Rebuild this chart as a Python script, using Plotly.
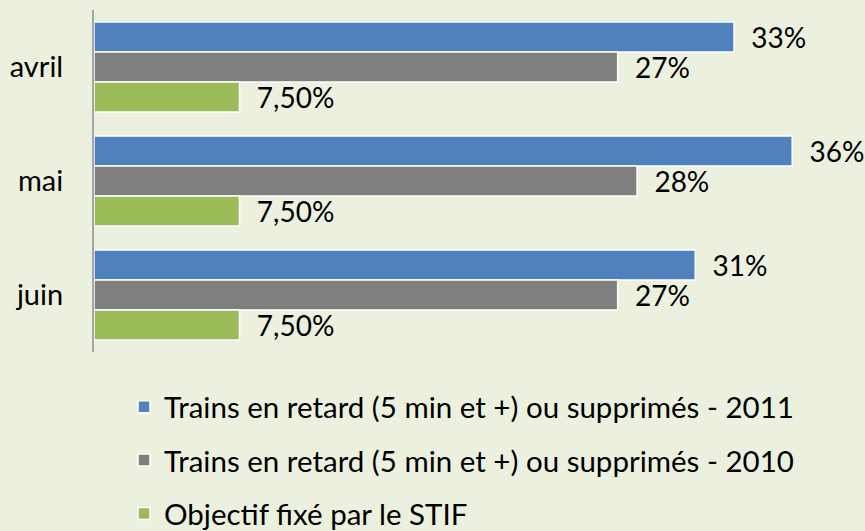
import plotly.graph_objects as go

categories = ["avril", "mai", "juin"]
series_names = [
    "Trains en retard (5 min et +) ou supprimés - 2011",
    "Trains en retard (5 min et +) ou supprimés - 2010",
    "Objectif fixé par le STIF",
]
values_2011 = [33, 36, 31]
values_2010 = [27, 28, 27]
values_stif = [7.5, 7.5, 7.5]
labels_2011 = ["33%", "36%", "31%"]
labels_2010 = ["27%", "28%", "27%"]
labels_stif = ["7,50%", "7,50%", "7,50%"]

colors = ["#4F81BD", "#7F7F7F", "#9BBB59"]
FONT = "Lato"
pad = "\u00a0\u00a0"

fig = go.Figure()
for i, (vals, labs) in enumerate([(values_2011, labels_2011), (values_2010, labels_2010), (values_stif, labels_stif)]):
    fig.add_trace(go.Bar(
        y=categories, x=vals, orientation="h", name=series_names[i],
        marker=dict(color=colors[i], line=dict(color="white", width=1.5)),
        text=[pad + l for l in labs], textposition="outside",
        textfont=dict(family=FONT, size=28, color="black"),
        constraintext="none", cliponaxis=False,
        legendgroup=f"g{i}",
    ))

fig.update_layout(
    width=865, height=531,
    margin=dict(l=94, r=34, t=10, b=179, autoexpand=False),
    paper_bgcolor="#EBF1DE", plot_bgcolor="#EBF1DE",
    barmode="group", bargap=0.21, bargroupgap=0,
    font=dict(family=FONT, size=29, color="black"),
    showlegend=True,
    legend=dict(
        xref="container", yref="container",
        x=124 / 865, y=1 - 381 / 531, xanchor="left", yanchor="top",
        font=dict(family=FONT, size=29.5, color="black"),
        bgcolor="rgba(0,0,0,0)", tracegroupgap=12, traceorder="grouped",
    ),
    xaxis=dict(range=[0, 38], visible=False, showgrid=False, zeroline=False),
    yaxis=dict(
        autorange="reversed", showline=True, linecolor="#A6A6A6", linewidth=2,
        ticks="", showgrid=False, ticklabelstandoff=23,
        tickfont=dict(family=FONT, size=29, color="black"),
    ),
)

fig.write_html(
    "out.html",
    config={"displayModeBar": False},
    post_script="document.body.style.margin='0';document.body.style.background='#EBF1DE';",
)
